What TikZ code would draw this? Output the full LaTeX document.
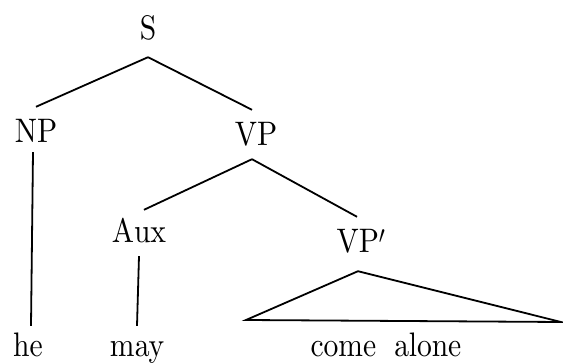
\documentclass[tikz,border=0pt]{standalone}
\font\cmbig=cmr10 at 34pt
\newcommand\nx[1]{\scalebox{0.87}[1]{#1}}
\begin{document}
\begin{tikzpicture}[x=1pt,y=-1pt,
  lbl/.style={anchor=base, inner xsep=0pt, font=\fontsize{34}{40}\selectfont\cmbig},
  cat/.style={lbl, text height=23pt, text depth=0pt, inner ysep=13pt},
  leaf/.style={lbl, text height=24pt, text depth=0pt, inner ysep=8pt},
  branch/.style={line width=1.8pt}]
\useasboundingbox (0,0) rectangle (563,363);
\node[cat, inner ysep=17pt] (S) at (148,40) {\nx{S}};
\node[cat] (NP) at (36,143) {\nx{NP}};
\node[cat] (VP) at (256,146) {\nx{VP}};
\node[cat] (Aux) at (139,243) {\nx{Aux}};
\node[cat] (VPp) at (361,253) {\nx{VP$'$}};
\node[leaf] (he) at (28,357) {\nx{he}};
\node[leaf] (may) at (137,357) {\nx{may}};
\node[leaf] (ca) at (386,357) {\nx{come\hspace{0.6em}alone}};
\coordinate (tl) at (246,320);
\coordinate (tr) at (561,322);
\draw[branch] (S.south) -- (NP.north);
\draw[branch] (S.south) -- ([xshift=-4pt]VP.north);
\draw[branch] ([xshift=-4pt]VP.south) -- ([xshift=5pt,yshift=-3pt]Aux.north);
\draw[branch] ([xshift=-4pt]VP.south) -- ([xshift=-4pt]VPp.north);
\draw[branch] ([xshift=-3pt,yshift=4pt]NP.south) -- ([xshift=3pt,yshift=-1pt]he.north);
\draw[branch] (Aux.south) -- ([yshift=-1pt]may.north);
\draw[branch, line join=miter] ([xshift=-3pt,yshift=-5pt]VPp.south) -- (tl) -- (tr) -- cycle;
\end{tikzpicture}
\end{document}
